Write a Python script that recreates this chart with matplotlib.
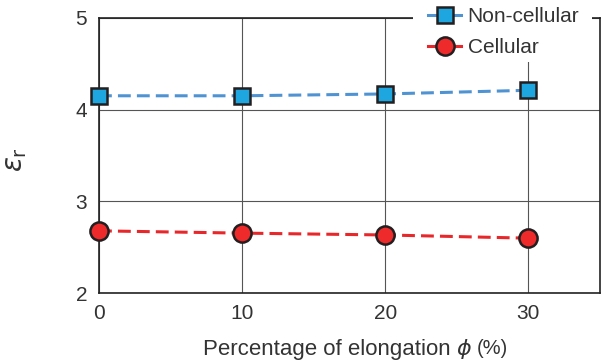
import matplotlib
matplotlib.use("Agg")
import matplotlib.pyplot as plt
from matplotlib.lines import Line2D
from matplotlib.patches import Rectangle

# Data
elongation = [0, 10, 20, 30]
non_cellular = [4.15, 4.15, 4.17, 4.21]
cellular = [2.68, 2.655, 2.635, 2.60]
series_labels = ["Non-cellular", "Cellular"]
x_ticks = [0, 10, 20, 30]
y_ticks = [2, 3, 4, 5]
x_label_left = "Percentage of elongation"
x_label_sym = r"$\phi$"
x_label_unit = "(%)"

plt.rcParams['font.family'] = ['Liberation Sans', 'DejaVu Sans']
TXT = '#333333'
BLUE_LINE = '#4f93d2'
BLUE_FACE = '#1ea6e0'
RED_LINE = '#e8272b'
RED_FACE = '#ee2a2a'
EDGE = '#231f20'

W, H = 602, 362
fig = plt.figure(figsize=(W / 100, H / 100), dpi=100)
ax = fig.add_axes([99 / W, (H - 293.3) / H, (600 - 99) / W, 275.6 / H])

lw = 2.2
ax.plot(elongation, non_cellular, color=BLUE_LINE, lw=lw, dashes=(4.2, 2.0),
        marker='s', ms=10.9, mfc=BLUE_FACE, mec=EDGE, mew=1.8, zorder=3, clip_on=False)
ax.plot(elongation, cellular, color=RED_LINE, lw=lw, dashes=(4.2, 2.0),
        marker='o', ms=13.1, mfc=RED_FACE, mec=EDGE, mew=1.8, zorder=3, clip_on=False)

ax.set_xticks(x_ticks)
ax.set_yticks(y_ticks)
ax.grid(True, color='#555555', lw=0.8)
ax.set_axisbelow(True)
for s in ax.spines.values():
    s.set_color('#222222')
    s.set_linewidth(1.2)
ax.tick_params(axis='both', length=0, labelsize=15, labelcolor=TXT)
ax.tick_params(axis='y', pad=8.6)
ax.tick_params(axis='x', pad=7.7)

# white patch behind legend covering the top spine
ax.add_patch(Rectangle((413 / W, 1 - 62 / H), (592 - 413) / W, 62 / H,
                       transform=fig.transFigure, facecolor='white',
                       edgecolor='none', clip_on=False, zorder=4))
ax.set_xlim(0, 35)
ax.set_ylim(2, 5)

handles = [
    Line2D([], [], color=BLUE_LINE, lw=lw, marker='s', ms=10.9, mfc=BLUE_FACE, mec=EDGE, mew=1.8),
    Line2D([], [], color=RED_LINE, lw=lw, marker='o', ms=13.1, mfc=RED_FACE, mec=EDGE, mew=1.8),
]
leg = ax.legend(handles, series_labels, loc='upper left',
                bbox_to_anchor=(428 / W, 1 - 7 / H), bbox_transform=fig.transFigure,
                frameon=False, fontsize=15, handlelength=1.6, handletextpad=0.3,
                labelspacing=0.57, borderpad=0, borderaxespad=0)
for t in leg.get_texts():
    t.set_color(TXT)
leg.set_zorder(6)

# x label in pieces: text, italic phi, unit
ty = 1 - 349 / H
fig.text(451 / W, ty, x_label_left, ha='right', va='center', fontsize=16, color=TXT)
fig.text(464 / W, ty, x_label_sym, ha='center', va='center', fontsize=16, color=TXT)
fig.text(477 / W, ty, x_label_unit, ha='left', va='center', fontsize=14.5, color=TXT)

fig.text(16 / W, 1 - 160 / H, r'$\varepsilon_{\rm r}$', rotation=90,
         ha='center', va='center', fontsize=20, color=TXT)

fig.savefig('out.png', dpi=100)
